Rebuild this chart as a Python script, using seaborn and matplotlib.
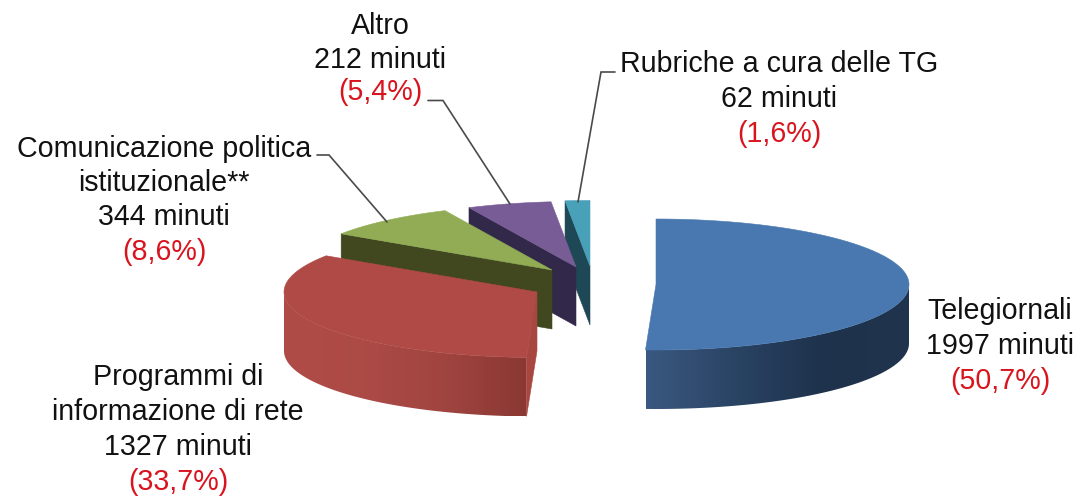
import numpy as np
import matplotlib
matplotlib.use("Agg")
import matplotlib.pyplot as plt
from matplotlib.patches import Polygon
import seaborn as sns

# ---- data ----
categories = ["Telegiornali", "Programmi di informazione di rete",
              "Comunicazione politica istituzionale**", "Altro",
              "Rubriche a cura delle TG"]
minutes = [1997, 1327, 344, 212, 62]
percent_labels = ["(50,7%)", "(33,7%)", "(8,6%)", "(5,4%)", "(1,6%)"]

# ---- style / layout ----
sns.set_theme(style="white")
plt.rcParams["font.family"] = ["Liberation Sans", "DejaVu Sans"]

top_colors = ["#4878AF", "#AF4A46", "#91AC55", "#785C96", "#48A0B9"]
cut_colors = [None, "#A8473F", "#414820", "#32284A", "#1E4855"]
outer_ramps = [["#3A5880", "#2A4464", "#1E324C", "#20344E"],
               ["#B04C48", "#AC4A46", "#A04440", "#8A3832"],
               None, None, None]
apexes = [(656, 284.5), (537, 292), (552, 270), (576, 267), (590, 266)]
RX, RY, DEPTH = 253, 65.5, 59

fig = plt.figure(figsize=(10.82, 4.96), dpi=100)
ax = fig.add_axes([0, 0, 1, 1])


def rim(apex, theta):
    return apex[0] + RX * np.sin(theta), apex[1] - RY * np.cos(theta)


edges = np.radians(np.concatenate([[0], np.cumsum(minutes)]) / np.sum(minutes) * 360)

# back slices first so that nearer ones overlap them
for i in reversed(range(len(minutes))):
    apex, a0, a1 = apexes[i], edges[i], edges[i + 1]
    z = 10 + (5 - i)

    # outer rim wall (only the part facing the viewer), shaded left to right
    lo, hi = max(a0, np.pi / 2), min(a1, 3 * np.pi / 2)
    if hi > lo and outer_ramps[i]:
        xs, ys = rim(apex, np.linspace(lo, hi, 160))
        outline = np.vstack([np.column_stack([xs, ys]),
                             np.column_stack([xs, ys + DEPTH])[::-1]])
        wall = Polygon(outline, closed=True, fc="none", ec="none", zorder=z)
        ax.add_patch(wall)
        ramp = np.array(sns.blend_palette(outer_ramps[i], 256))[None, :, :3]
        img = ax.imshow(ramp, extent=(xs.min(), xs.max(), ys.max() + DEPTH, ys.min()),
                        aspect="auto", interpolation="bilinear", zorder=z)
        img.set_clip_path(wall)

    # visible cut face
    if cut_colors[i] is not None:
        ex, ey = rim(apex, a0)
        ax.add_patch(Polygon([(ex, ey), apex, (apex[0], apex[1] + DEPTH), (ex, ey + DEPTH)],
                             closed=True, fc=cut_colors[i], ec=cut_colors[i], lw=0.4,
                             zorder=z + 0.1))

    # top face
    xs, ys = rim(apex, np.linspace(a0, a1, 120))
    ax.add_patch(Polygon(np.vstack([[apex], np.column_stack([xs, ys])]), closed=True,
                         fc=top_colors[i], ec=top_colors[i], lw=0.4, zorder=z + 0.5))

# leader lines
line_kw = dict(color="#4A4A4A", lw=1.2, zorder=30, solid_joinstyle="miter")
ax.plot([317, 329, 387], [155, 155, 222], **line_kw)
ax.plot([428, 443, 510], [100.5, 100.5, 204], **line_kw)
ax.plot([615, 601, 578], [72, 72, 202], **line_kw)

# labels
BLACK, RED = "#111111", "#D8141E"
FS = 20.6
blocks = [
    (1000, [311, 346, 381], ["Telegiornali", f"{minutes[0]} minuti", percent_labels[0]]),
    (178, [377, 412, 447, 482], ["Programmi di", "informazione di rete", f"{minutes[1]} minuti", percent_labels[1]]),
    (164, [149, 183, 217, 252], ["Comunicazione politica", "istituzionale**", f"{minutes[2]} minuti", percent_labels[2]]),
    (380, [26, 60, 92], ["Altro", f"{minutes[3]} minuti", percent_labels[3]]),
    (779, [64, 99, 134], ["Rubriche a cura delle TG", f"{minutes[4]} minuti", percent_labels[4]]),
]
for x, ys, lines in blocks:
    for j, (y, s) in enumerate(zip(ys, lines)):
        ax.text(x, y, s, ha="center", va="center", fontsize=FS,
                color=RED if j == len(lines) - 1 else BLACK, zorder=40)

ax.set_xlim(0, 1082)
ax.set_ylim(496, 0)
ax.axis("off")
fig.savefig("out.png", dpi=100, facecolor="white")
